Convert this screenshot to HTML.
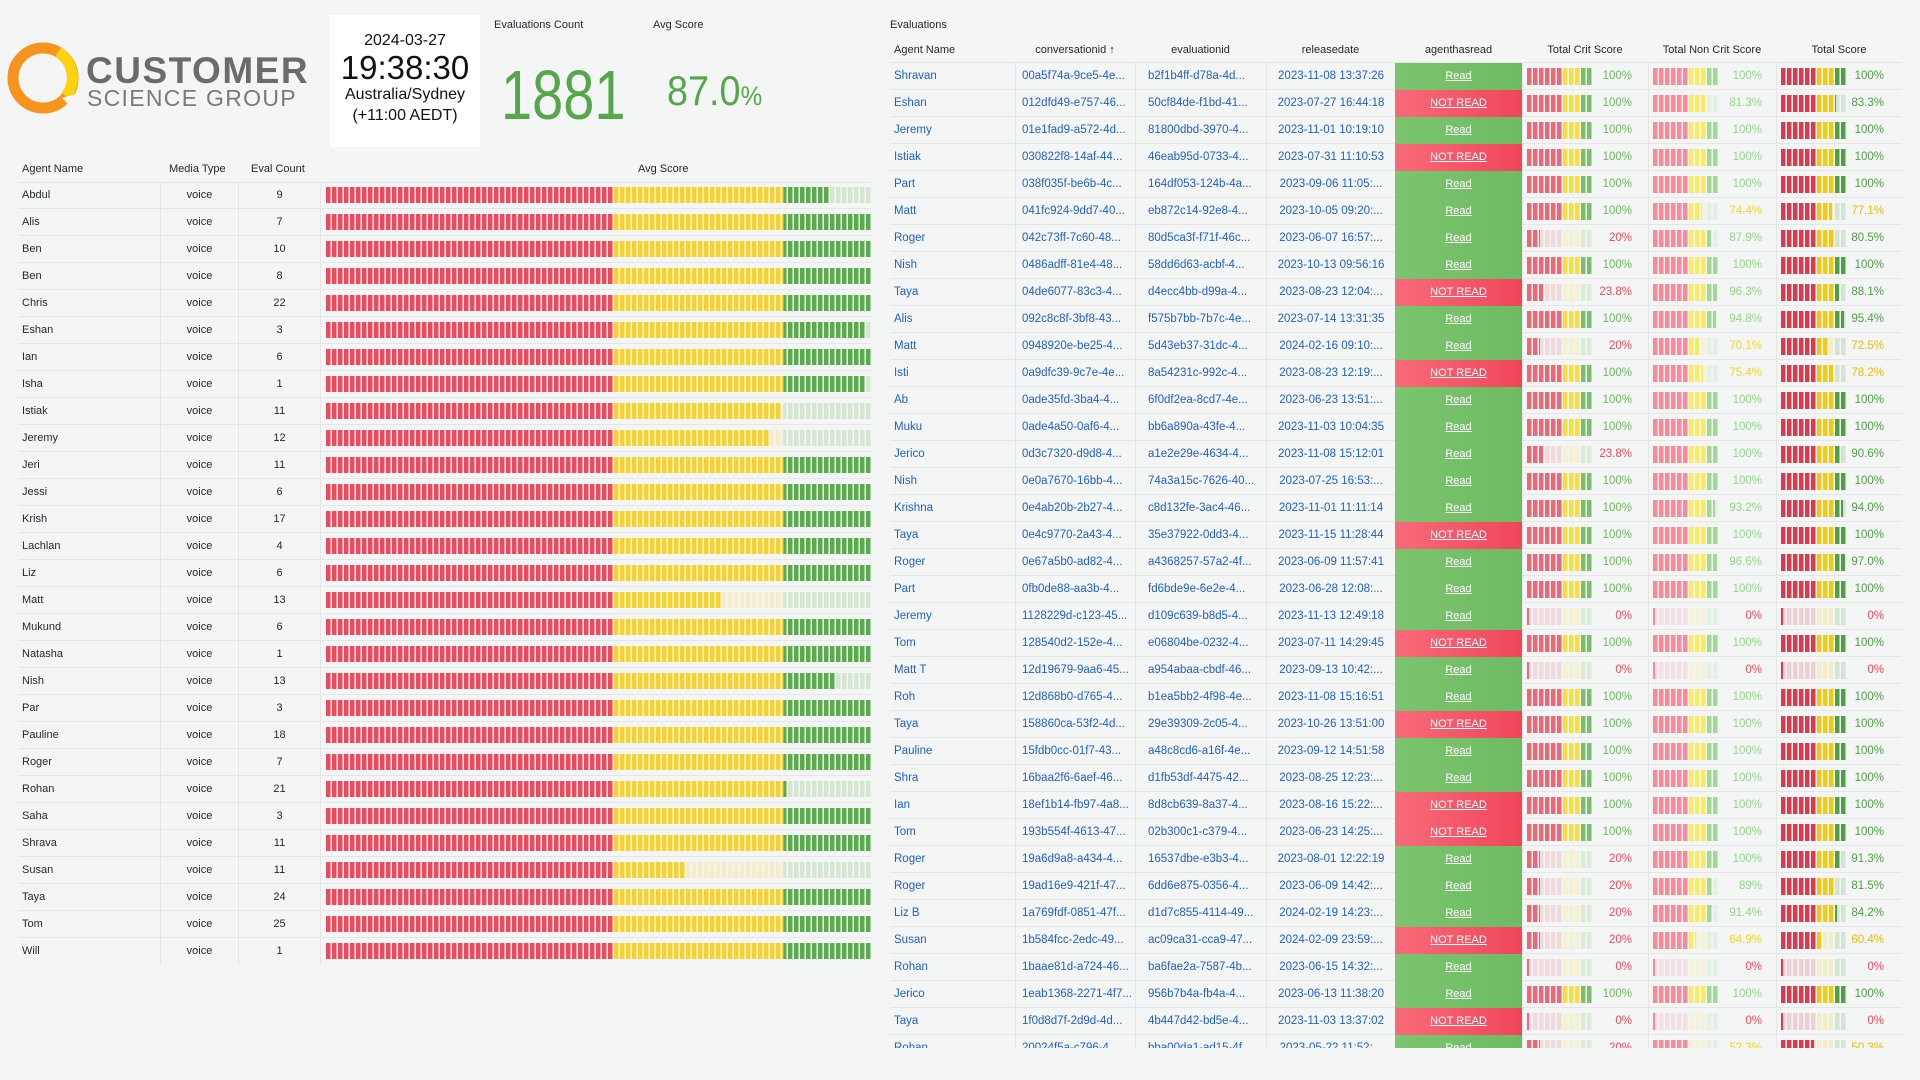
<!DOCTYPE html>
<html><head><meta charset="utf-8"><style>
*{box-sizing:border-box}
body{margin:0;width:1920px;height:1080px;background:#f4f5f5;font-family:"Liberation Sans",sans-serif;overflow:hidden;position:relative;color:#24292e}
.abs{position:absolute}
.tb{position:absolute;left:330px;top:15px;width:150px;height:132px;background:#fff;text-align:center;color:#111}
.lbl{position:absolute;font-size:11px;color:#24292e}
.lh{position:absolute;top:163px;left:18px;width:853px;height:20px;font-size:11px;border-bottom:1px solid #e4e4e4}
.lr{position:absolute;left:18px;width:853px;height:27px;line-height:27px;font-size:11px;border-bottom:1px solid #e6e6e6}
.lr span,.lh span{position:absolute;top:0}
.lr .m{left:142px;width:79px;text-align:center;border-left:1px solid #e6e6e6;border-right:1px solid #e6e6e6;height:27px}
.lr .c{left:221px;width:82px;text-align:center;border-right:1px solid #e6e6e6;height:27px}
.bar{position:absolute;left:308px;top:5px;width:545px;height:16px;background:linear-gradient(90deg,#ec4a5d 0 52.7%,#f5d133 52.7% 83.9%,#5aaa4e 83.9%);-webkit-mask-image:repeating-linear-gradient(90deg,#000 0 4.5px,transparent 4.5px 6px);mask-image:repeating-linear-gradient(90deg,#000 0 4.5px,transparent 4.5px 6px)}
.bar b,.g b{position:absolute;top:0;bottom:0;right:0;background:rgba(244,245,245,.8)}
.rp{position:absolute;left:890px;top:0;width:1012px;height:1048px;overflow:hidden}
.rh{position:absolute;top:44px;left:0;width:1012px;height:19px;font-size:11px;border-bottom:1px solid #e4e4e4}
.rh span{position:absolute;top:0;text-align:center}
.rr{position:absolute;left:0;width:1012px;height:27px;line-height:27px;font-size:11.5px;color:#1f60c4;border-bottom:1px solid #e6e6e6;white-space:nowrap}
.rr>span{position:absolute;top:0;height:27px}
.a{left:4px}
.cv{left:125px;width:120px;border-left:1px solid #e6e6e6;padding-left:6px}
.ev{left:245px;width:131px;border-left:1px solid #e6e6e6;padding-left:12px}
.dt{left:376px;width:129px;border-left:1px solid #e6e6e6;text-align:center}
.k{left:505px;width:127px;text-align:center;color:#fff;text-decoration:underline;font-size:11px}
.k.R{background:linear-gradient(90deg,#7cc46f,#6dbb62)}
.k.N{background:linear-gradient(90deg,#f86b7a,#f0455a)}
.q{width:126px;border-left:1px solid #e6e6e6}
.q1{left:632px}.q2{left:758px;width:128px}.q3{left:886px}
.g{position:absolute;left:4px;top:5px;width:66px;height:17px;-webkit-mask-image:repeating-linear-gradient(90deg,#000 0 4.5px,transparent 4.5px 6px);mask-image:repeating-linear-gradient(90deg,#000 0 4.5px,transparent 4.5px 6px)}
.q1 .g{background:linear-gradient(90deg,#ef6677 0 54.5%,#f7e03a 54.5% 81.8%,#79c06d 81.8%)}
.q2 .g{background:linear-gradient(90deg,#ff8797 0 54.5%,#fbec5c 54.5% 81.8%,#a2d998 81.8%)}
.q3 .g{background:linear-gradient(90deg,#e0384c 0 54.5%,#f2cc0c 54.5% 81.8%,#4f9f45 81.8%)}
.q em{position:absolute;right:16px;top:0;font-style:normal;font-size:11.5px}
.q2 em{right:14px}.q3 em{right:18px}
.q1 .G{color:#6cb862}.q2 .G{color:#93d58a}.q3 .G{color:#4f9f45}
.Y{color:#f2d52a}.q3 .Y{color:#e6bd0b}
.Rd{color:#ee4a5e}
</style></head><body>

<svg class="abs" style="left:6px;top:40px" width="80" height="80" viewBox="0 0 80 80">
<circle cx="37" cy="38" r="30" fill="none" stroke="#f7941d" stroke-width="11"/>
<path d="M52 12 A30 30 0 0 1 60 56" fill="none" stroke="#fdd20e" stroke-width="11"/>
<path d="M56 58 L68 70 L70 54 Z" fill="#f4f5f5"/>
</svg>
<div class="abs" style="left:86px;top:50px;font-size:37px;font-weight:bold;color:#6b6b6b;letter-spacing:1.5px">CUSTOMER</div>
<div class="abs" style="left:87px;top:85px;font-size:23px;color:#7a7a7a;letter-spacing:1.3px">SCIENCE GROUP</div>

<div class="tb">
<div style="position:absolute;top:17px;width:100%;font-size:16px">2024-03-27</div>
<div style="position:absolute;top:34px;width:100%;font-size:33px">19:38:30</div>
<div style="position:absolute;top:71px;width:100%;font-size:16px">Australia/Sydney</div>
<div style="position:absolute;top:92px;width:100%;font-size:16px">(+11:00 AEDT)</div>
</div>

<div class="lbl" style="left:494px;top:19px">Evaluations Count</div>
<div class="lbl" style="left:653px;top:19px">Avg Score</div>
<div class="abs" style="left:501px;top:55px;font-size:70px;color:#56a64b;transform:scaleX(0.8);transform-origin:0 0">1881</div>
<div class="abs" style="left:667px;top:67px;font-size:42px;color:#56a64b;transform:scaleX(0.9);transform-origin:0 0">87.0<span style="font-size:27px">%</span></div>

<div class="lh"><span style="left:4px">Agent Name</span><span style="left:151px">Media Type</span><span style="left:233px">Eval Count</span><span style="left:620px">Avg Score</span></div>

<div class="lr" style="top:182px"><span style="left:4px">Abdul</span><span class="m">voice</span><span class="c">9</span><div class="bar"><b style="left:92.3%"></b></div></div>
<div class="lr" style="top:209px"><span style="left:4px">Alis</span><span class="m">voice</span><span class="c">7</span><div class="bar"></div></div>
<div class="lr" style="top:236px"><span style="left:4px">Ben</span><span class="m">voice</span><span class="c">10</span><div class="bar"></div></div>
<div class="lr" style="top:263px"><span style="left:4px">Ben</span><span class="m">voice</span><span class="c">8</span><div class="bar"></div></div>
<div class="lr" style="top:290px"><span style="left:4px">Chris</span><span class="m">voice</span><span class="c">22</span><div class="bar"></div></div>
<div class="lr" style="top:317px"><span style="left:4px">Eshan</span><span class="m">voice</span><span class="c">3</span><div class="bar"><b style="left:99%"></b></div></div>
<div class="lr" style="top:344px"><span style="left:4px">Ian</span><span class="m">voice</span><span class="c">6</span><div class="bar"></div></div>
<div class="lr" style="top:371px"><span style="left:4px">Isha</span><span class="m">voice</span><span class="c">1</span><div class="bar"><b style="left:99%"></b></div></div>
<div class="lr" style="top:398px"><span style="left:4px">Istiak</span><span class="m">voice</span><span class="c">11</span><div class="bar"><b style="left:83.5%"></b></div></div>
<div class="lr" style="top:425px"><span style="left:4px">Jeremy</span><span class="m">voice</span><span class="c">12</span><div class="bar"><b style="left:81.3%"></b></div></div>
<div class="lr" style="top:452px"><span style="left:4px">Jeri</span><span class="m">voice</span><span class="c">11</span><div class="bar"></div></div>
<div class="lr" style="top:479px"><span style="left:4px">Jessi</span><span class="m">voice</span><span class="c">6</span><div class="bar"></div></div>
<div class="lr" style="top:506px"><span style="left:4px">Krish</span><span class="m">voice</span><span class="c">17</span><div class="bar"></div></div>
<div class="lr" style="top:533px"><span style="left:4px">Lachlan</span><span class="m">voice</span><span class="c">4</span><div class="bar"></div></div>
<div class="lr" style="top:560px"><span style="left:4px">Liz</span><span class="m">voice</span><span class="c">6</span><div class="bar"></div></div>
<div class="lr" style="top:587px"><span style="left:4px">Matt</span><span class="m">voice</span><span class="c">13</span><div class="bar"><b style="left:72.5%"></b></div></div>
<div class="lr" style="top:614px"><span style="left:4px">Mukund</span><span class="m">voice</span><span class="c">6</span><div class="bar"></div></div>
<div class="lr" style="top:641px"><span style="left:4px">Natasha</span><span class="m">voice</span><span class="c">1</span><div class="bar"></div></div>
<div class="lr" style="top:668px"><span style="left:4px">Nish</span><span class="m">voice</span><span class="c">13</span><div class="bar"><b style="left:93.6%"></b></div></div>
<div class="lr" style="top:695px"><span style="left:4px">Par</span><span class="m">voice</span><span class="c">3</span><div class="bar"></div></div>
<div class="lr" style="top:722px"><span style="left:4px">Pauline</span><span class="m">voice</span><span class="c">18</span><div class="bar"></div></div>
<div class="lr" style="top:749px"><span style="left:4px">Roger</span><span class="m">voice</span><span class="c">7</span><div class="bar"></div></div>
<div class="lr" style="top:776px"><span style="left:4px">Rohan</span><span class="m">voice</span><span class="c">21</span><div class="bar"><b style="left:84.7%"></b></div></div>
<div class="lr" style="top:803px"><span style="left:4px">Saha</span><span class="m">voice</span><span class="c">3</span><div class="bar"></div></div>
<div class="lr" style="top:830px"><span style="left:4px">Shrava</span><span class="m">voice</span><span class="c">11</span><div class="bar"></div></div>
<div class="lr" style="top:857px"><span style="left:4px">Susan</span><span class="m">voice</span><span class="c">11</span><div class="bar"><b style="left:66%"></b></div></div>
<div class="lr" style="top:884px"><span style="left:4px">Taya</span><span class="m">voice</span><span class="c">24</span><div class="bar"></div></div>
<div class="lr" style="top:911px"><span style="left:4px">Tom</span><span class="m">voice</span><span class="c">25</span><div class="bar"></div></div>
<div class="lr" style="top:938px;border-bottom:none"><span style="left:4px">Will</span><span class="m">voice</span><span class="c">1</span><div class="bar"></div></div>

<div class="rp">
<div class="lbl" style="left:0;top:19px">Evaluations</div>
<div class="rh"><span style="left:4px">Agent Name</span><span style="left:125px;width:120px">conversationid ↑</span><span style="left:245px;width:131px">evaluationid</span><span style="left:376px;width:129px">releasedate</span><span style="left:505px;width:127px">agenthasread</span><span style="left:632px;width:126px">Total Crit Score</span><span style="left:758px;width:128px">Total Non Crit Score</span><span style="left:886px;width:126px">Total Score</span></div>

<div class="rr" style="top:63px"><span class="a">Shravan</span><span class="cv">00a5f74a-9ce5-4e...</span><span class="ev">b2f1b4ff-d78a-4d...</span><span class="dt">2023-11-08 13:37:26</span><span class="k R">Read</span><span class="q q1"><i class="g"></i><em class="G">100%</em></span><span class="q q2"><i class="g"></i><em class="G">100%</em></span><span class="q q3"><i class="g"></i><em class="G">100%</em></span></div>
<div class="rr" style="top:90px"><span class="a">Eshan</span><span class="cv">012dfd49-e757-46...</span><span class="ev">50cf84de-f1bd-41...</span><span class="dt">2023-07-27 16:44:18</span><span class="k N">NOT READ</span><span class="q q1"><i class="g"></i><em class="G">100%</em></span><span class="q q2"><i class="g"><b style="left:81.3%"></b></i><em class="G">81.3%</em></span><span class="q q3"><i class="g"><b style="left:83.3%"></b></i><em class="G">83.3%</em></span></div>
<div class="rr" style="top:117px"><span class="a">Jeremy</span><span class="cv">01e1fad9-a572-4d...</span><span class="ev">81800dbd-3970-4...</span><span class="dt">2023-11-01 10:19:10</span><span class="k R">Read</span><span class="q q1"><i class="g"></i><em class="G">100%</em></span><span class="q q2"><i class="g"></i><em class="G">100%</em></span><span class="q q3"><i class="g"></i><em class="G">100%</em></span></div>
<div class="rr" style="top:144px"><span class="a">Istiak</span><span class="cv">030822f8-14af-44...</span><span class="ev">46eab95d-0733-4...</span><span class="dt">2023-07-31 11:10:53</span><span class="k N">NOT READ</span><span class="q q1"><i class="g"></i><em class="G">100%</em></span><span class="q q2"><i class="g"></i><em class="G">100%</em></span><span class="q q3"><i class="g"></i><em class="G">100%</em></span></div>
<div class="rr" style="top:171px"><span class="a">Part</span><span class="cv">038f035f-be6b-4c...</span><span class="ev">164df053-124b-4a...</span><span class="dt">2023-09-06 11:05:...</span><span class="k R">Read</span><span class="q q1"><i class="g"></i><em class="G">100%</em></span><span class="q q2"><i class="g"></i><em class="G">100%</em></span><span class="q q3"><i class="g"></i><em class="G">100%</em></span></div>
<div class="rr" style="top:198px"><span class="a">Matt</span><span class="cv">041fc924-9dd7-40...</span><span class="ev">eb872c14-92e8-4...</span><span class="dt">2023-10-05 09:20:...</span><span class="k R">Read</span><span class="q q1"><i class="g"></i><em class="G">100%</em></span><span class="q q2"><i class="g"><b style="left:74.4%"></b></i><em class="Y">74.4%</em></span><span class="q q3"><i class="g"><b style="left:77.1%"></b></i><em class="Y">77.1%</em></span></div>
<div class="rr" style="top:225px"><span class="a">Roger</span><span class="cv">042c73ff-7c60-48...</span><span class="ev">80d5ca3f-f71f-46c...</span><span class="dt">2023-06-07 16:57:...</span><span class="k R">Read</span><span class="q q1"><i class="g"><b style="left:20%"></b></i><em class="Rd">20%</em></span><span class="q q2"><i class="g"><b style="left:87.9%"></b></i><em class="G">87.9%</em></span><span class="q q3"><i class="g"><b style="left:80.5%"></b></i><em class="G">80.5%</em></span></div>
<div class="rr" style="top:252px"><span class="a">Nish</span><span class="cv">0486adff-81e4-48...</span><span class="ev">58dd6d63-acbf-4...</span><span class="dt">2023-10-13 09:56:16</span><span class="k R">Read</span><span class="q q1"><i class="g"></i><em class="G">100%</em></span><span class="q q2"><i class="g"></i><em class="G">100%</em></span><span class="q q3"><i class="g"></i><em class="G">100%</em></span></div>
<div class="rr" style="top:279px"><span class="a">Taya</span><span class="cv">04de6077-83c3-4...</span><span class="ev">d4ecc4bb-d99a-4...</span><span class="dt">2023-08-23 12:04:...</span><span class="k N">NOT READ</span><span class="q q1"><i class="g"><b style="left:23.8%"></b></i><em class="Rd">23.8%</em></span><span class="q q2"><i class="g"><b style="left:96.3%"></b></i><em class="G">96.3%</em></span><span class="q q3"><i class="g"><b style="left:88.1%"></b></i><em class="G">88.1%</em></span></div>
<div class="rr" style="top:306px"><span class="a">Alis</span><span class="cv">092c8c8f-3bf8-43...</span><span class="ev">f575b7bb-7b7c-4e...</span><span class="dt">2023-07-14 13:31:35</span><span class="k R">Read</span><span class="q q1"><i class="g"></i><em class="G">100%</em></span><span class="q q2"><i class="g"><b style="left:94.8%"></b></i><em class="G">94.8%</em></span><span class="q q3"><i class="g"><b style="left:95.4%"></b></i><em class="G">95.4%</em></span></div>
<div class="rr" style="top:333px"><span class="a">Matt</span><span class="cv">0948920e-be25-4...</span><span class="ev">5d43eb37-31dc-4...</span><span class="dt">2024-02-16 09:10:...</span><span class="k R">Read</span><span class="q q1"><i class="g"><b style="left:20%"></b></i><em class="Rd">20%</em></span><span class="q q2"><i class="g"><b style="left:70.1%"></b></i><em class="Y">70.1%</em></span><span class="q q3"><i class="g"><b style="left:72.5%"></b></i><em class="Y">72.5%</em></span></div>
<div class="rr" style="top:360px"><span class="a">Isti</span><span class="cv">0a9dfc39-9c7e-4e...</span><span class="ev">8a54231c-992c-4...</span><span class="dt">2023-08-23 12:19:...</span><span class="k N">NOT READ</span><span class="q q1"><i class="g"></i><em class="G">100%</em></span><span class="q q2"><i class="g"><b style="left:75.4%"></b></i><em class="Y">75.4%</em></span><span class="q q3"><i class="g"><b style="left:78.2%"></b></i><em class="Y">78.2%</em></span></div>
<div class="rr" style="top:387px"><span class="a">Ab</span><span class="cv">0ade35fd-3ba4-4...</span><span class="ev">6f0df2ea-8cd7-4e...</span><span class="dt">2023-06-23 13:51:...</span><span class="k R">Read</span><span class="q q1"><i class="g"></i><em class="G">100%</em></span><span class="q q2"><i class="g"></i><em class="G">100%</em></span><span class="q q3"><i class="g"></i><em class="G">100%</em></span></div>
<div class="rr" style="top:414px"><span class="a">Muku</span><span class="cv">0ade4a50-0af6-4...</span><span class="ev">bb6a890a-43fe-4...</span><span class="dt">2023-11-03 10:04:35</span><span class="k R">Read</span><span class="q q1"><i class="g"></i><em class="G">100%</em></span><span class="q q2"><i class="g"></i><em class="G">100%</em></span><span class="q q3"><i class="g"></i><em class="G">100%</em></span></div>
<div class="rr" style="top:441px"><span class="a">Jerico</span><span class="cv">0d3c7320-d9d8-4...</span><span class="ev">a1e2e29e-4634-4...</span><span class="dt">2023-11-08 15:12:01</span><span class="k R">Read</span><span class="q q1"><i class="g"><b style="left:23.8%"></b></i><em class="Rd">23.8%</em></span><span class="q q2"><i class="g"></i><em class="G">100%</em></span><span class="q q3"><i class="g"><b style="left:90.6%"></b></i><em class="G">90.6%</em></span></div>
<div class="rr" style="top:468px"><span class="a">Nish</span><span class="cv">0e0a7670-16bb-4...</span><span class="ev">74a3a15c-7626-40...</span><span class="dt">2023-07-25 16:53:...</span><span class="k R">Read</span><span class="q q1"><i class="g"></i><em class="G">100%</em></span><span class="q q2"><i class="g"></i><em class="G">100%</em></span><span class="q q3"><i class="g"></i><em class="G">100%</em></span></div>
<div class="rr" style="top:495px"><span class="a">Krishna</span><span class="cv">0e4ab20b-2b27-4...</span><span class="ev">c8d132fe-3ac4-46...</span><span class="dt">2023-11-01 11:11:14</span><span class="k R">Read</span><span class="q q1"><i class="g"></i><em class="G">100%</em></span><span class="q q2"><i class="g"><b style="left:93.2%"></b></i><em class="G">93.2%</em></span><span class="q q3"><i class="g"><b style="left:94%"></b></i><em class="G">94.0%</em></span></div>
<div class="rr" style="top:522px"><span class="a">Taya</span><span class="cv">0e4c9770-2a43-4...</span><span class="ev">35e37922-0dd3-4...</span><span class="dt">2023-11-15 11:28:44</span><span class="k N">NOT READ</span><span class="q q1"><i class="g"></i><em class="G">100%</em></span><span class="q q2"><i class="g"></i><em class="G">100%</em></span><span class="q q3"><i class="g"></i><em class="G">100%</em></span></div>
<div class="rr" style="top:549px"><span class="a">Roger</span><span class="cv">0e67a5b0-ad82-4...</span><span class="ev">a4368257-57a2-4f...</span><span class="dt">2023-06-09 11:57:41</span><span class="k R">Read</span><span class="q q1"><i class="g"></i><em class="G">100%</em></span><span class="q q2"><i class="g"><b style="left:96.6%"></b></i><em class="G">96.6%</em></span><span class="q q3"><i class="g"><b style="left:97%"></b></i><em class="G">97.0%</em></span></div>
<div class="rr" style="top:576px"><span class="a">Part</span><span class="cv">0fb0de88-aa3b-4...</span><span class="ev">fd6bde9e-6e2e-4...</span><span class="dt">2023-06-28 12:08:...</span><span class="k R">Read</span><span class="q q1"><i class="g"></i><em class="G">100%</em></span><span class="q q2"><i class="g"></i><em class="G">100%</em></span><span class="q q3"><i class="g"></i><em class="G">100%</em></span></div>
<div class="rr" style="top:603px"><span class="a">Jeremy</span><span class="cv">1128229d-c123-45...</span><span class="ev">d109c639-b8d5-4...</span><span class="dt">2023-11-13 12:49:18</span><span class="k R">Read</span><span class="q q1"><i class="g"><b style="left:3%"></b></i><em class="Rd">0%</em></span><span class="q q2"><i class="g"><b style="left:3%"></b></i><em class="Rd">0%</em></span><span class="q q3"><i class="g"><b style="left:3%"></b></i><em class="Rd">0%</em></span></div>
<div class="rr" style="top:630px"><span class="a">Tom</span><span class="cv">128540d2-152e-4...</span><span class="ev">e06804be-0232-4...</span><span class="dt">2023-07-11 14:29:45</span><span class="k N">NOT READ</span><span class="q q1"><i class="g"></i><em class="G">100%</em></span><span class="q q2"><i class="g"></i><em class="G">100%</em></span><span class="q q3"><i class="g"></i><em class="G">100%</em></span></div>
<div class="rr" style="top:657px"><span class="a">Matt T</span><span class="cv">12d19679-9aa6-45...</span><span class="ev">a954abaa-cbdf-46...</span><span class="dt">2023-09-13 10:42:...</span><span class="k R">Read</span><span class="q q1"><i class="g"><b style="left:3%"></b></i><em class="Rd">0%</em></span><span class="q q2"><i class="g"><b style="left:3%"></b></i><em class="Rd">0%</em></span><span class="q q3"><i class="g"><b style="left:3%"></b></i><em class="Rd">0%</em></span></div>
<div class="rr" style="top:684px"><span class="a">Roh</span><span class="cv">12d868b0-d765-4...</span><span class="ev">b1ea5bb2-4f98-4e...</span><span class="dt">2023-11-08 15:16:51</span><span class="k R">Read</span><span class="q q1"><i class="g"></i><em class="G">100%</em></span><span class="q q2"><i class="g"></i><em class="G">100%</em></span><span class="q q3"><i class="g"></i><em class="G">100%</em></span></div>
<div class="rr" style="top:711px"><span class="a">Taya</span><span class="cv">158860ca-53f2-4d...</span><span class="ev">29e39309-2c05-4...</span><span class="dt">2023-10-26 13:51:00</span><span class="k N">NOT READ</span><span class="q q1"><i class="g"></i><em class="G">100%</em></span><span class="q q2"><i class="g"></i><em class="G">100%</em></span><span class="q q3"><i class="g"></i><em class="G">100%</em></span></div>
<div class="rr" style="top:738px"><span class="a">Pauline</span><span class="cv">15fdb0cc-01f7-43...</span><span class="ev">a48c8cd6-a16f-4e...</span><span class="dt">2023-09-12 14:51:58</span><span class="k R">Read</span><span class="q q1"><i class="g"></i><em class="G">100%</em></span><span class="q q2"><i class="g"></i><em class="G">100%</em></span><span class="q q3"><i class="g"></i><em class="G">100%</em></span></div>
<div class="rr" style="top:765px"><span class="a">Shra</span><span class="cv">16baa2f6-6aef-46...</span><span class="ev">d1fb53df-4475-42...</span><span class="dt">2023-08-25 12:23:...</span><span class="k R">Read</span><span class="q q1"><i class="g"></i><em class="G">100%</em></span><span class="q q2"><i class="g"></i><em class="G">100%</em></span><span class="q q3"><i class="g"></i><em class="G">100%</em></span></div>
<div class="rr" style="top:792px"><span class="a">Ian</span><span class="cv">18ef1b14-fb97-4a8...</span><span class="ev">8d8cb639-8a37-4...</span><span class="dt">2023-08-16 15:22:...</span><span class="k N">NOT READ</span><span class="q q1"><i class="g"></i><em class="G">100%</em></span><span class="q q2"><i class="g"></i><em class="G">100%</em></span><span class="q q3"><i class="g"></i><em class="G">100%</em></span></div>
<div class="rr" style="top:819px"><span class="a">Tom</span><span class="cv">193b554f-4613-47...</span><span class="ev">02b300c1-c379-4...</span><span class="dt">2023-06-23 14:25:...</span><span class="k N">NOT READ</span><span class="q q1"><i class="g"></i><em class="G">100%</em></span><span class="q q2"><i class="g"></i><em class="G">100%</em></span><span class="q q3"><i class="g"></i><em class="G">100%</em></span></div>
<div class="rr" style="top:846px"><span class="a">Roger</span><span class="cv">19a6d9a8-a434-4...</span><span class="ev">16537dbe-e3b3-4...</span><span class="dt">2023-08-01 12:22:19</span><span class="k R">Read</span><span class="q q1"><i class="g"><b style="left:20%"></b></i><em class="Rd">20%</em></span><span class="q q2"><i class="g"></i><em class="G">100%</em></span><span class="q q3"><i class="g"><b style="left:91.3%"></b></i><em class="G">91.3%</em></span></div>
<div class="rr" style="top:873px"><span class="a">Roger</span><span class="cv">19ad16e9-421f-47...</span><span class="ev">6dd6e875-0356-4...</span><span class="dt">2023-06-09 14:42:...</span><span class="k R">Read</span><span class="q q1"><i class="g"><b style="left:20%"></b></i><em class="Rd">20%</em></span><span class="q q2"><i class="g"><b style="left:89%"></b></i><em class="G">89%</em></span><span class="q q3"><i class="g"><b style="left:81.5%"></b></i><em class="G">81.5%</em></span></div>
<div class="rr" style="top:900px"><span class="a">Liz B</span><span class="cv">1a769fdf-0851-47f...</span><span class="ev">d1d7c855-4114-49...</span><span class="dt">2024-02-19 14:23:...</span><span class="k R">Read</span><span class="q q1"><i class="g"><b style="left:20%"></b></i><em class="Rd">20%</em></span><span class="q q2"><i class="g"><b style="left:91.4%"></b></i><em class="G">91.4%</em></span><span class="q q3"><i class="g"><b style="left:84.2%"></b></i><em class="G">84.2%</em></span></div>
<div class="rr" style="top:927px"><span class="a">Susan</span><span class="cv">1b584fcc-2edc-49...</span><span class="ev">ac09ca31-cca9-47...</span><span class="dt">2024-02-09 23:59:...</span><span class="k N">NOT READ</span><span class="q q1"><i class="g"><b style="left:20%"></b></i><em class="Rd">20%</em></span><span class="q q2"><i class="g"><b style="left:64.9%"></b></i><em class="Y">64.9%</em></span><span class="q q3"><i class="g"><b style="left:60.4%"></b></i><em class="Y">60.4%</em></span></div>
<div class="rr" style="top:954px"><span class="a">Rohan</span><span class="cv">1baae81d-a724-46...</span><span class="ev">ba6fae2a-7587-4b...</span><span class="dt">2023-06-15 14:32:...</span><span class="k R">Read</span><span class="q q1"><i class="g"><b style="left:3%"></b></i><em class="Rd">0%</em></span><span class="q q2"><i class="g"><b style="left:3%"></b></i><em class="Rd">0%</em></span><span class="q q3"><i class="g"><b style="left:3%"></b></i><em class="Rd">0%</em></span></div>
<div class="rr" style="top:981px"><span class="a">Jerico</span><span class="cv">1eab1368-2271-4f7...</span><span class="ev">956b7b4a-fb4a-4...</span><span class="dt">2023-06-13 11:38:20</span><span class="k R">Read</span><span class="q q1"><i class="g"></i><em class="G">100%</em></span><span class="q q2"><i class="g"></i><em class="G">100%</em></span><span class="q q3"><i class="g"></i><em class="G">100%</em></span></div>
<div class="rr" style="top:1008px"><span class="a">Taya</span><span class="cv">1f0d8d7f-2d9d-4d...</span><span class="ev">4b447d42-bd5e-4...</span><span class="dt">2023-11-03 13:37:02</span><span class="k N">NOT READ</span><span class="q q1"><i class="g"><b style="left:3%"></b></i><em class="Rd">0%</em></span><span class="q q2"><i class="g"><b style="left:3%"></b></i><em class="Rd">0%</em></span><span class="q q3"><i class="g"><b style="left:3%"></b></i><em class="Rd">0%</em></span></div>
<div class="rr" style="top:1035px"><span class="a">Rohan</span><span class="cv">20024f5a-c796-4...</span><span class="ev">bba00da1-ad15-4f...</span><span class="dt">2023-05-22 11:52:...</span><span class="k R">Read</span><span class="q q1"><i class="g"><b style="left:20%"></b></i><em class="Rd">20%</em></span><span class="q q2"><i class="g"><b style="left:52.3%"></b></i><em class="Y">52.3%</em></span><span class="q q3"><i class="g"><b style="left:50.3%"></b></i><em class="Y">50.3%</em></span></div>
</div>
</body></html>
